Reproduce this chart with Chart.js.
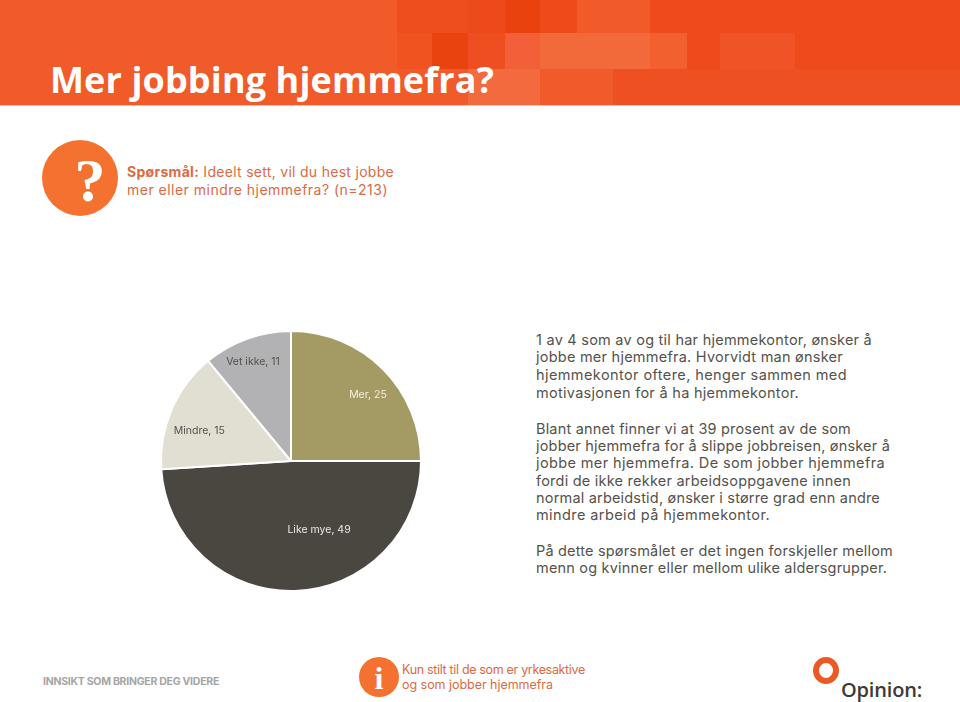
<!DOCTYPE html>
<html>
<head>
<meta charset="utf-8">
<script src="https://cdn.jsdelivr.net/npm/chart.js@4"></script>
<style>
    html, body { margin: 0; padding: 0; background: #fff; }
    #page { position: relative; width: 960px; height: 702px; overflow: hidden; font-family: 'Inter', sans-serif; }
    #page div { position: absolute; }
    .line { white-space: nowrap; }
    #band { left: 0; top: 0; width: 960px; height: 105px; background: #f15a29; border-bottom: 1px solid #f9c4b0; }
    #title { left: 50px; top: 55px; font: bold 36px 'Open Sans', sans-serif; color: #fff; white-space: nowrap; }
    .dot { background: #f47130; border-radius: 50%; color: #fff; text-align: center; font-family: 'Liberation Serif', serif; font-weight: bold; }
    .orange { color: #dc6a45; font-size: 14px; line-height: 18px; }
    .body-text { left: 536px; color: #55524c; font-size: 14.5px; line-height: 18.4px; }
    #chartBox { left: 140px; top: 320px; width: 302px; height: 282px; }
</style>
</head>
<body>
<div id="page">
    <div id="band"></div>
    <div style="left:397px;top:0;width:108px;height:33px;background:#ee4e1e"></div>
    <div style="left:468px;top:0;width:37px;height:33px;background:#ec4a1a"></div>
    <div style="left:505px;top:0;width:35px;height:33px;background:#e9420f"></div>
    <div style="left:540px;top:0;width:37px;height:33px;background:#ee4b1b"></div>
    <div style="left:613px;top:0;width:37px;height:33px;background:#f15a29"></div>
    <div style="left:650px;top:0;width:310px;height:33px;background:#ef4a1b"></div>
    <div style="left:397px;top:33px;width:71px;height:36px;background:#f0531f"></div>
    <div style="left:432px;top:33px;width:36px;height:36px;background:#e9430f"></div>
    <div style="left:468px;top:33px;width:37px;height:36px;background:#ef4f20"></div>
    <div style="left:505px;top:33px;width:35px;height:36px;background:#f2603a"></div>
    <div style="left:540px;top:33px;width:110px;height:36px;background:#f36a3a"></div>
    <div style="left:650px;top:33px;width:37px;height:36px;background:#f2602f"></div>
    <div style="left:687px;top:33px;width:273px;height:36px;background:#ee4b1c"></div>
    <div style="left:720px;top:33px;width:75px;height:36px;background:#f05426"></div>
    <div style="left:468px;top:69px;width:72px;height:36px;background:#f36a3e"></div>
    <div style="left:613px;top:69px;width:347px;height:36px;background:#ef5021"></div>
    <div id="title" data-end="494">Mer jobbing hjemmefra?</div>

    <div class="dot" style="left:42px;top:140px;width:76px;height:76px;font-size:62px;line-height:80px;text-indent:20px">?</div>
    <div class="orange line" data-end="394" style="left:127px;top:163px"><b>Spørsmål:</b> Ideelt sett, vil du hest jobbe</div>
    <div class="orange line" data-end="388" style="left:127px;top:181px">mer eller mindre hjemmefra? (n=213)</div>

    <div id="chartBox"><canvas id="pie"></canvas></div>

    <div class="body-text line" data-end="872" style="top:331px">1 av 4 som av og til har hjemmekontor, ønsker å</div>
    <div class="body-text line" data-end="843" style="top:348px">jobbe mer hjemmefra. Hvorvidt man ønsker</div>
    <div class="body-text line" data-end="847" style="top:366px">hjemmekontor oftere, henger sammen med</div>
    <div class="body-text line" data-end="799" style="top:384px">motivasjonen for å ha hjemmekontor.</div>
    <div class="body-text line" data-end="851" style="top:420px">Blant annet finner vi at 39 prosent av de som</div>
    <div class="body-text line" data-end="890" style="top:437px">jobber hjemmefra for å slippe jobbreisen, ønsker å</div>
    <div class="body-text line" data-end="885" style="top:454px">jobbe mer hjemmefra. De som jobber hjemmefra</div>
    <div class="body-text line" data-end="851" style="top:472px">fordi de ikke rekker arbeidsoppgavene innen</div>
    <div class="body-text line" data-end="880" style="top:489px">normal arbeidstid, ønsker i større grad enn andre</div>
    <div class="body-text line" data-end="770" style="top:506px">mindre arbeid på hjemmekontor.</div>
    <div class="body-text line" data-end="893" style="top:542px">På dette spørsmålet er det ingen forskjeller mellom</div>
    <div class="body-text line" data-end="887" style="top:559px">menn og kvinner eller mellom ulike aldersgrupper.</div>

    <div class="line" data-end="219" style="left:43px;top:675px;font-size:10.5px;font-weight:bold;color:#a5a5a5">INNSIKT SOM BRINGER DEG VIDERE</div>
    <div class="dot" style="left:359px;top:657px;width:40px;height:40px;font-size:32px;line-height:42px">i</div>
    <div class="orange line" data-end="585" style="left:402px;top:662px;font-size:12.5px;line-height:16px">Kun stilt til de som er yrkesaktive</div>
    <div class="orange line" data-end="553" style="left:402px;top:677px;font-size:12.5px;line-height:16px">og som jobber hjemmefra</div>

    <div style="left:813px;top:657px;width:14px;height:15px;border:6px solid #ea5a24;border-radius:50%"></div>
    <div class="line" data-end="922" style="left:841px;top:676px;font:600 20px 'Open Sans', sans-serif;color:#3a3a38">Opinion:</div>
</div>
<script>
const labels = ['Mer', 'Like mye', 'Mindre', 'Vet ikke'];
const values = [25, 49, 15, 11];
const sliceColors = ['#a49a64', '#4a4740', '#e1dfd2', '#b2b2b4'];
const labelColors = ['#f4f1e2', '#e9e8e2', '#55524c', '#55524c'];
const labelOffsets = [[31, -20], [26, 4], [-32, -4], [-16, -38]];

// the original font is not installed, so squeeze or stretch each line to its width
document.querySelectorAll('[data-end]').forEach(el => {
    const box = el.getBoundingClientRect();
    const spacing = (Number(el.dataset.end) - box.right) / el.textContent.length;
    el.style.letterSpacing = spacing + 'px';
});

// writes "Name, value" on each slice, same as the data labels in the original
const sliceLabels = {
    id: 'sliceLabels',
    afterDatasetsDraw(chart) {
        const ctx = chart.ctx;
        ctx.save();
        ctx.font = '10.5px Inter, sans-serif';
        ctx.textAlign = 'center';
        ctx.textBaseline = 'middle';
        chart.getDatasetMeta(0).data.forEach((arc, i) => {
            const pos = arc.tooltipPosition();
            ctx.fillStyle = labelColors[i];
            ctx.fillText(labels[i] + ', ' + values[i], pos.x + labelOffsets[i][0], pos.y + labelOffsets[i][1]);
        });
        ctx.restore();
    },
};

new Chart(document.getElementById('pie'), {
    type: 'pie',
    data: {
        labels: labels,
        datasets: [{
            data: values,
            backgroundColor: sliceColors,
            borderColor: '#fff',
            borderWidth: 2,
        }],
    },
    options: {
        responsive: true,
        maintainAspectRatio: false,
        animation: false,
        layout: { padding: 10 },
        plugins: {
            legend: { display: false },
            tooltip: { enabled: false },
        },
    },
    plugins: [sliceLabels],
});
</script>
</body>
</html>
